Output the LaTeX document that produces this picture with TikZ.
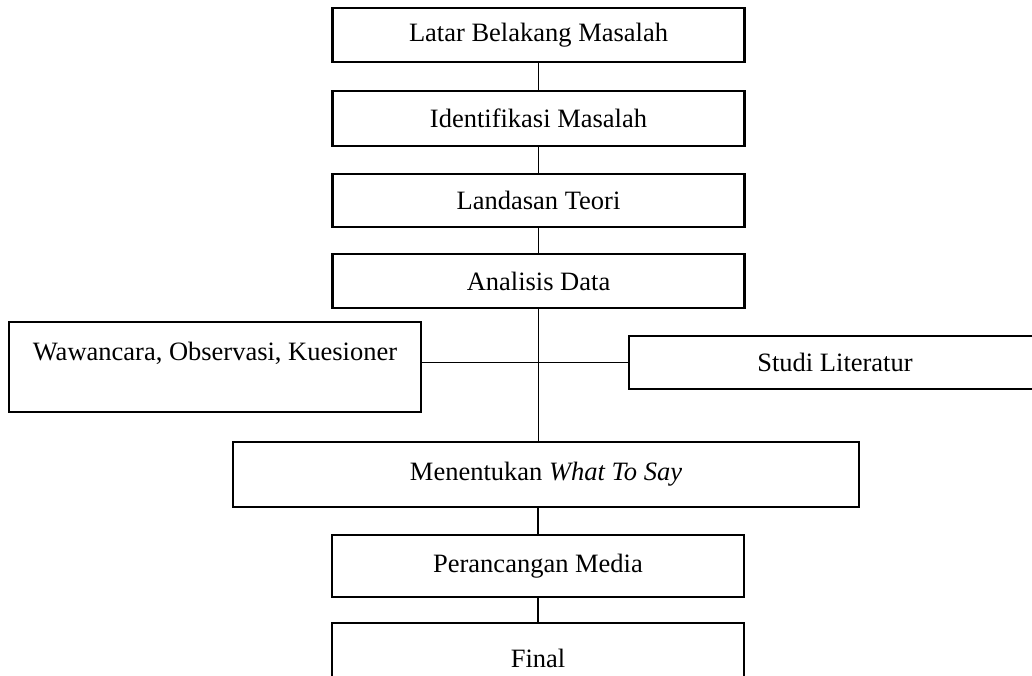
\documentclass[tikz,border=0pt]{standalone}
\usepackage{fontspec}
\setmainfont{Liberation Serif}
\begin{document}
\begin{tikzpicture}[x=1pt,y=-1pt,
  box/.style={draw, line width=2.8pt, inner sep=0pt, minimum width=412pt,
              font=\fontsize{26.5}{30}\selectfont},
  conn/.style={line width=1.5pt}]
\useasboundingbox (0,0) rectangle (1032,675);
\clip (0,0) rectangle (1032,675);
\fill[white] (0,0) rectangle (1032,675);

\node[box, minimum height=54pt] (b1) at (538.5,35) {Latar Belakang Masalah};
\node[box, minimum height=55pt] (b2) at (538.5,118.5) {Identifikasi Masalah};
\node[box, minimum height=53pt] (b3) at (538.5,200.5) {Landasan Teori};
\node[box, minimum height=54pt] (b4) at (538.5,281) {Analisis Data};
\node[box, minimum height=90pt, text height=20pt, text depth=33pt] (ww) at (215,367) {Wawancara, Observasi, Kuesioner};
\node[box, minimum height=53pt] (st) at (835,362.5) {Studi Literatur};
\node[box, minimum width=626pt, minimum height=65pt] (wts) at (546,474.5) {Menentukan \textit{What To Say}};
\node[box, minimum height=62pt] (pm) at (538,566) {Perancangan Media};
\node[box, minimum height=70pt] (fin) at (538,658) {Final};

\draw[conn] (b1.south) -- (b2.north);
\draw[conn] (b2.south) -- (b3.north);
\draw[conn] (b3.south) -- (b4.north);
\draw[conn] (b4.south) -- (b4.south |- wts.north);
\draw[conn] (st.west -| ww.east) -- (st.west);
\draw[conn] (pm.north |- wts.south) -- (pm.north);
\draw[conn] (pm.south) -- (fin.north);
\end{tikzpicture}
\end{document}
